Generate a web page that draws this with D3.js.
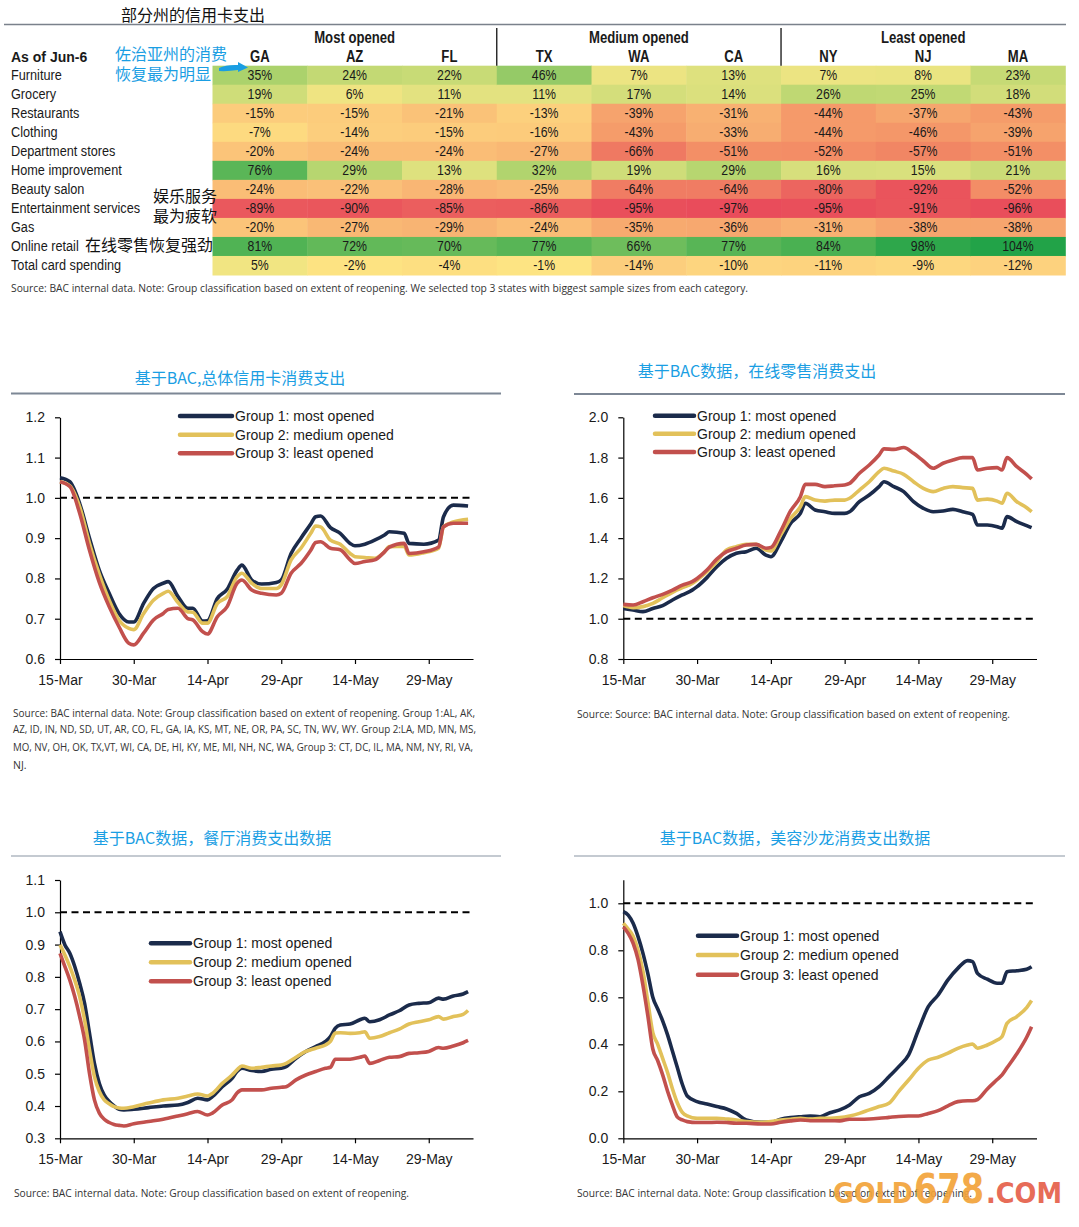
<!DOCTYPE html>
<html><head><meta charset="utf-8">
<script src="https://cdn.jsdelivr.net/npm/d3@7"></script>
<style>body{margin:0;background:#fff}svg{display:block}</style>
</head><body>
<svg id="c" width="1079" height="1227"></svg>
<script>
// ---------- TABLE DATA ----------
const tableTitle = "部分州的信用卡支出";
const tableCategories = ["Furniture","Grocery","Restaurants","Clothing","Department stores","Home improvement","Beauty salon","Entertainment services","Gas","Online retail","Total card spending"];
const tableGroups = ["Most opened","Medium opened","Least opened"];
const tableStates = ["GA","AZ","FL","TX","WA","CA","NY","NJ","MA"];
const valGA = [35,19,-15,-7,-20,76,-24,-89,-20,81,5];
const valAZ = [24,6,-15,-14,-24,29,-22,-90,-27,72,-2];
const valFL = [22,11,-21,-15,-24,13,-28,-85,-29,70,-4];
const valTX = [46,11,-13,-16,-27,32,-25,-86,-24,77,-1];
const valWA = [7,17,-39,-43,-66,19,-64,-95,-35,66,-14];
const valCA = [13,14,-31,-33,-51,29,-64,-97,-36,77,-10];
const valNY = [7,26,-44,-44,-52,16,-80,-95,-31,84,-11];
const valNJ = [8,25,-37,-46,-57,15,-92,-91,-38,98,-9];
const valMA = [23,18,-43,-39,-51,21,-52,-96,-38,104,-12];
const tableSource = "Source: BAC internal data. Note: Group classification based on extent of reopening. We selected top 3 states with biggest sample sizes from each category.";

// ---------- CHART DATA (x = days since 15-Mar) ----------
const xTickDays = [0,15,30,45,60,75];
const xTickLabels = ["15-Mar","30-Mar","14-Apr","29-Apr","14-May","29-May"];
const groupNames = ["Group 1: most opened","Group 2: medium opened","Group 3: least opened"];

// Chart 1: total card spending
const daysTotal = [0,2,4,6,8,10,12,14,15,17,19,21,22,24,26,27,29,30,32,34,36,37,39,41,44,45,47,49,51,52,53,55,57,59,60,62,64,66,67,70,71,74,77,78,80,83];
const totalG1 = [1.05,1.04,0.986,0.90,0.82,0.763,0.713,0.692,0.692,0.738,0.775,0.788,0.792,0.755,0.726,0.726,0.694,0.695,0.75,0.773,0.82,0.833,0.796,0.786,0.79,0.796,0.862,0.90,0.935,0.953,0.955,0.926,0.912,0.887,0.881,0.885,0.895,0.908,0.916,0.912,0.887,0.885,0.895,0.953,0.982,0.98];
const totalG2 = [1.04,1.03,0.978,0.887,0.81,0.746,0.697,0.676,0.673,0.713,0.746,0.763,0.768,0.74,0.717,0.716,0.689,0.689,0.738,0.755,0.804,0.813,0.788,0.775,0.775,0.784,0.846,0.875,0.912,0.93,0.928,0.895,0.885,0.862,0.854,0.852,0.85,0.866,0.879,0.88,0.858,0.864,0.875,0.928,0.94,0.947];
const totalG3 = [1.04,1.028,0.962,0.87,0.79,0.73,0.68,0.639,0.635,0.664,0.697,0.713,0.723,0.726,0.70,0.697,0.668,0.662,0.705,0.73,0.788,0.796,0.771,0.763,0.759,0.763,0.813,0.837,0.87,0.889,0.891,0.875,0.871,0.846,0.837,0.842,0.846,0.866,0.878,0.887,0.862,0.866,0.878,0.928,0.937,0.937];

// Chart 2: online retail
const daysOnline = [0,2,4,6,8,10,12,14,15,17,19,21,23,25,27,29,30,32,34,36,37,39,41,43,45,46,48,50,52,53,55,57,59,61,63,65,67,69,71,72,74,76,77,78,80,82,83];
const onlineG1 = [1.051,1.043,1.035,1.051,1.065,1.093,1.118,1.142,1.159,1.204,1.258,1.30,1.325,1.333,1.35,1.316,1.308,1.382,1.473,1.523,1.573,1.54,1.531,1.523,1.523,1.531,1.581,1.614,1.656,1.68,1.656,1.631,1.581,1.548,1.531,1.535,1.543,1.531,1.518,1.465,1.465,1.457,1.449,1.507,1.482,1.462,1.452];
const onlineG2 = [1.065,1.055,1.06,1.076,1.104,1.131,1.154,1.175,1.192,1.233,1.283,1.341,1.358,1.369,1.369,1.341,1.336,1.416,1.498,1.556,1.606,1.589,1.584,1.589,1.589,1.598,1.639,1.68,1.73,1.747,1.733,1.717,1.68,1.647,1.631,1.647,1.656,1.651,1.647,1.589,1.594,1.584,1.573,1.623,1.581,1.551,1.531];
const onlineG3 = [1.071,1.068,1.084,1.104,1.121,1.142,1.167,1.184,1.20,1.242,1.296,1.333,1.35,1.366,1.369,1.35,1.353,1.435,1.535,1.606,1.667,1.667,1.656,1.66,1.664,1.672,1.722,1.763,1.813,1.843,1.841,1.85,1.821,1.783,1.747,1.772,1.788,1.80,1.80,1.738,1.747,1.75,1.738,1.80,1.755,1.717,1.694];

// Chart 3: restaurants
const daysRest = [0,1,2,3,4,5,6,7,8,9,10,11,12,13,15,18,21,24,26,28,30,31,33,35,36,37,39,41,43,45,46,48,50,52,54,55,56,57,59,61,62,63,65,67,69,71,73,75,77,78,80,82,83];
const restG1 = [0.94,0.899,0.873,0.832,0.78,0.718,0.625,0.532,0.47,0.434,0.414,0.40,0.39,0.388,0.39,0.395,0.40,0.403,0.411,0.424,0.419,0.429,0.46,0.486,0.507,0.517,0.51,0.507,0.514,0.517,0.522,0.548,0.569,0.584,0.60,0.615,0.641,0.651,0.654,0.667,0.672,0.661,0.667,0.682,0.695,0.713,0.718,0.72,0.734,0.731,0.741,0.747,0.754];
const restG2 = [0.899,0.868,0.832,0.79,0.739,0.667,0.574,0.491,0.445,0.419,0.407,0.398,0.394,0.393,0.398,0.409,0.419,0.424,0.431,0.437,0.431,0.439,0.47,0.496,0.512,0.524,0.517,0.52,0.524,0.527,0.532,0.551,0.569,0.579,0.589,0.60,0.626,0.627,0.625,0.627,0.63,0.61,0.615,0.627,0.638,0.654,0.661,0.667,0.677,0.669,0.677,0.684,0.696];
const restG3 = [0.873,0.832,0.79,0.739,0.677,0.605,0.501,0.419,0.378,0.359,0.349,0.343,0.34,0.338,0.345,0.352,0.359,0.369,0.376,0.383,0.372,0.378,0.403,0.419,0.44,0.45,0.45,0.45,0.455,0.458,0.46,0.481,0.496,0.507,0.517,0.52,0.545,0.545,0.545,0.551,0.555,0.532,0.541,0.551,0.553,0.563,0.565,0.569,0.581,0.579,0.586,0.596,0.603];

// Chart 4: beauty salon
const daysBeauty = [0,1,2,3,4,5,6,7,8,9,10,11,12,13,15,17,19,21,23,25,28,30,32,34,36,38,40,42,44,46,48,50,52,54,56,58,60,62,64,66,68,70,71,72,74,76,77,78,80,82,83];
const beautyG1 = [0.965,0.95,0.915,0.858,0.787,0.70,0.60,0.55,0.50,0.44,0.37,0.30,0.23,0.18,0.156,0.146,0.135,0.125,0.106,0.078,0.068,0.068,0.081,0.088,0.092,0.095,0.092,0.109,0.121,0.142,0.177,0.191,0.22,0.262,0.305,0.355,0.461,0.56,0.61,0.674,0.723,0.756,0.752,0.702,0.677,0.66,0.66,0.709,0.713,0.719,0.73];
const beautyG2 = [0.915,0.89,0.86,0.80,0.71,0.58,0.45,0.40,0.34,0.28,0.21,0.15,0.11,0.095,0.085,0.085,0.085,0.082,0.078,0.071,0.068,0.071,0.078,0.081,0.085,0.082,0.085,0.085,0.088,0.095,0.106,0.121,0.135,0.149,0.20,0.248,0.298,0.333,0.345,0.362,0.383,0.397,0.401,0.383,0.397,0.418,0.433,0.489,0.518,0.556,0.586];
const beautyG3 = [0.90,0.872,0.83,0.76,0.65,0.52,0.38,0.33,0.27,0.20,0.14,0.09,0.078,0.071,0.067,0.067,0.068,0.067,0.064,0.064,0.061,0.061,0.068,0.074,0.078,0.075,0.075,0.075,0.074,0.081,0.081,0.082,0.085,0.089,0.093,0.095,0.095,0.106,0.118,0.138,0.156,0.16,0.16,0.165,0.21,0.25,0.27,0.30,0.36,0.43,0.475];

const srcShort = "Source: BAC internal data. Note: Group classification based on extent of reopening.";
const srcOnline = "Source: Source: BAC internal data. Note: Group classification based on extent of reopening.";
const srcLong = ["Source: BAC internal data. Note: Group classification based on extent of reopening. Group 1:AL, AK,",
 "AZ, ID, IN, ND, SD, UT, AR, CO, FL, GA, IA, KS, MT, NE, OR, PA, SC, TN, WV, WY. Group 2:LA, MD, MN, MS,",
 "MO, NV, OH, OK, TX,VT, WI, CA, DE, HI, KY, ME, MI, NH, NC, WA, Group 3: CT, DC, IL, MA, NM, NY, RI, VA,",
 "NJ."];
const watermark = ["GOLD","678",".COM"];

// ---------- DRAWING ----------
const svg = d3.select("#c");
const NAVY = "#1b2b4b", GOLD = "#e2c15a", RED = "#c2504d", BLUE = "#1a9ee3";
const SANS = "'Liberation Sans', Arial, sans-serif";
const CJK = "'Noto Sans CJK SC', sans-serif";
const SRC = "'Open Sans', sans-serif";
const NX = 0.82; // horizontal squeeze to mimic a narrow face

function narrowText(parent, x, y, str, size, anchor, weight){
  return parent.append("text")
    .attr("transform",`translate(${x},${y}) scale(${NX},1)`)
    .attr("text-anchor",anchor||"start")
    .attr("font-family",SANS).attr("font-size",size).attr("font-weight",weight||"normal")
    .attr("fill","#1a1a1a").text(str);
}

// Table
const tableCols = [valGA,valAZ,valFL,valTX,valWA,valCA,valNY,valNJ,valMA];
const colX = d3.scaleBand().domain(tableStates).range([212.5, 1065.3]);
const rowY = d3.scaleBand().domain(tableCategories).range([65.7, 275]);
const heat = d3.scaleLinear()
  .domain([-100,-50,-10,0,10,30,100])
  .range(["#e8485a","#f39066","#fdd57f","#fde683","#e5e381","#b5d56f","#2aa64a"])
  .interpolate(d3.interpolateRgb);

svg.append("text").attr("x",193).attr("y",21).attr("text-anchor","middle")
  .attr("font-family",CJK).attr("font-size",16).attr("fill","#111").text(tableTitle);
svg.append("line").attr("x1",4).attr("x2",1066).attr("y1",24.5).attr("y2",24.5)
  .attr("stroke","#7a818b").attr("stroke-width",1.5);

const tg = svg.append("g");
tableStates.forEach((s,ci)=>{
  tableCategories.forEach((c,ri)=>{
    const v = tableCols[ci][ri];
    tg.append("rect").attr("x",colX(s)).attr("y",rowY(c))
      .attr("width",colX.bandwidth()+0.5).attr("height",rowY.bandwidth()+0.5).attr("fill",heat(v));
  });
});
tableStates.forEach((s,ci)=>{
  tableCategories.forEach((c,ri)=>{
    narrowText(tg, colX(s)+colX.bandwidth()/2, rowY(c)+rowY.bandwidth()/2+5, tableCols[ci][ri]+"%", 15, "middle");
  });
  narrowText(tg, colX(s)+colX.bandwidth()/2, 62, s, 16, "middle", "bold");
});
tableGroups.forEach((gname,gi)=>{
  const xs = colX(tableStates[gi*3]), xe = colX(tableStates[gi*3+2])+colX.bandwidth();
  narrowText(tg, (xs+xe)/2, 43, gname, 16, "middle", "bold");
  if(gi>0) tg.append("line").attr("x1",xs).attr("x2",xs).attr("y1",28).attr("y2",65.7).attr("stroke","#111").attr("stroke-width",1.3);
});
tg.append("text").attr("x",11).attr("y",62).attr("font-family",SANS).attr("font-weight","bold").attr("font-size",14).attr("fill","#1a1a1a").text("As of Jun-6");
tableCategories.forEach(c=>{
  narrowText(tg, 11, rowY(c)+rowY.bandwidth()/2+5, c, 15.5, "start");
});
tg.append("text").attr("x",11).attr("y",292).attr("font-family",SRC).attr("font-size",11).attr("fill","#333")
  .attr("textLength",737).attr("lengthAdjust","spacingAndGlyphs").text(tableSource);

// annotations
const ann = svg.append("g").attr("font-family",CJK).attr("font-size",16);
ann.append("text").attr("x",115).attr("y",60).attr("fill",BLUE).text("佐治亚州的消费");
ann.append("text").attr("x",115).attr("y",80).attr("fill",BLUE).text("恢复最为明显");
ann.append("path").attr("d","M219,68 Q226,64.5 238,65 L238,62 L248,67.5 L238,72 L238,70 Q228,71.5 219,71 Z").attr("fill",BLUE);
ann.append("text").attr("x",153).attr("y",202).attr("fill","#111").text("娱乐服务");
ann.append("text").attr("x",153).attr("y",222).attr("fill","#111").text("最为疲软");
ann.append("text").attr("x",85).attr("y",251).attr("fill","#111").text("在线零售恢复强劲");

// Chart helper
function drawChart(o){
  const g = svg.append("g");
  const x = d3.scaleLinear().domain([0,84]).range([o.x0,o.x1]);
  const y = d3.scaleLinear().domain(o.yDomain).range([o.yBottom,o.yTop]);
  g.append("text").attr("x",o.titleX).attr("y",o.titleY).attr("text-anchor","middle")
    .attr("font-family",CJK).attr("font-size",16).attr("fill",BLUE).text(o.title);
  g.append("line").attr("x1",o.ruleX0).attr("x2",o.ruleX1).attr("y1",o.ruleY).attr("y2",o.ruleY)
    .attr("stroke",o.ruleColor).attr("stroke-width",o.ruleW);

  const xa = g.append("g").attr("transform",`translate(0,${o.yBottom})`)
    .call(d3.axisBottom(x).tickValues(xTickDays).tickFormat((d,i)=>xTickLabels[i]).tickSize(5).tickSizeOuter(0).tickPadding(11));
  const ya = g.append("g").attr("transform",`translate(${o.x0},0)`)
    .call(d3.axisLeft(y).tickValues(o.yTicks).tickFormat(d3.format(".1f")).tickSize(5).tickSizeOuter(0).tickPadding(10));
  [xa,ya].forEach(a=>{
    a.attr("font-family",SANS).attr("font-size",14);
    a.select(".domain").attr("stroke","#000").attr("stroke-width",1.2);
    a.selectAll(".tick line").attr("stroke","#000").attr("stroke-width",1.2);
    a.selectAll(".tick text").attr("fill","#1a1a1a");
  });
  g.append("line").attr("x1",x(0)).attr("x2",o.x1-1).attr("y1",y(1)).attr("y2",y(1))
    .attr("stroke","#000").attr("stroke-width",2).attr("stroke-dasharray","7,4.5");

  const line = d3.line().x(d=>x(d[0])).y(d=>y(d[1])).curve(d3.curveMonotoneX);
  const cols = [NAVY,GOLD,RED];
  o.series.forEach((s,i)=>{
    g.append("path").datum(o.days.map((d,k)=>[d,s[k]])).attr("d",line)
      .attr("fill","none").attr("stroke",cols[i]).attr("stroke-width",3.6).attr("stroke-linejoin","round");
  });
  groupNames.forEach((n,i)=>{
    g.append("line").attr("x1",o.legX0).attr("x2",o.legX1).attr("y1",o.legY[i]).attr("y2",o.legY[i])
      .attr("stroke",cols[i]).attr("stroke-width",4.5).attr("stroke-linecap","round");
    g.append("text").attr("x",o.legX1+3).attr("y",o.legY[i]+5).attr("font-family",SANS).attr("font-size",14)
      .attr("fill","#1a1a1a").text(n);
  });
  o.src.forEach((t,i)=>{
    const el = g.append("text").attr("x",o.srcX).attr("y",o.srcY[i]).attr("font-family",SRC).attr("font-size",10.5)
      .attr("fill","#333").text(t);
    if(o.srcW[i]) el.attr("textLength",o.srcW[i]).attr("lengthAdjust","spacingAndGlyphs");
  });
}

drawChart({title:"基于BAC,总体信用卡消费支出",titleX:240,titleY:384,
  ruleX0:11,ruleX1:501,ruleY:393.5,ruleColor:"#7d8795",ruleW:2,
  x0:60,x1:473,yDomain:[0.6,1.2],yBottom:659,yTop:417.3,yTicks:[0.6,0.7,0.8,0.9,1.0,1.1,1.2],
  days:daysTotal,series:[totalG1,totalG2,totalG3],
  legX0:180,legX1:232,legY:[416,434.7,453.3],
  src:srcLong,srcX:13,srcY:[717,733,751,769],srcW:[462,463,460,null]});

drawChart({title:"基于BAC数据，在线零售消费支出",titleX:757,titleY:377,
  ruleX0:574,ruleX1:1065,ruleY:394,ruleColor:"#7d8795",ruleW:2,
  x0:623.3,x1:1036.5,yDomain:[0.8,2.0],yBottom:659,yTop:417.3,yTicks:[0.8,1.0,1.2,1.4,1.6,1.8,2.0],
  days:daysOnline,series:[onlineG1,onlineG2,onlineG3],
  legX0:655,legX1:694,legY:[415.7,433.7,452],
  src:[srcOnline],srcX:577,srcY:[718],srcW:[433]});

drawChart({title:"基于BAC数据，餐厅消费支出数据",titleX:212,titleY:844,
  ruleX0:11,ruleX1:501,ruleY:856,ruleColor:"#8a96a3",ruleW:1.2,
  x0:60,x1:473,yDomain:[0.3,1.1],yBottom:1138.3,yTop:880,yTicks:[0.3,0.4,0.5,0.6,0.7,0.8,0.9,1.0,1.1],
  days:daysRest,series:[restG1,restG2,restG3],
  legX0:151,legX1:190,legY:[943.3,962.3,981.3],
  src:[srcShort],srcX:14,srcY:[1197],srcW:[395]});

drawChart({title:"基于BAC数据，美容沙龙消费支出数据",titleX:795,titleY:844,
  ruleX0:574,ruleX1:1065,ruleY:856,ruleColor:"#8a96a3",ruleW:1.2,
  x0:623.3,x1:1036.5,yDomain:[0,1.1],yBottom:1138.3,yTop:879.8,yTicks:[0,0.2,0.4,0.6,0.8,1.0],
  days:daysBeauty,series:[beautyG1,beautyG2,beautyG3],
  legX0:698,legX1:737,legY:[935.7,955,974.7],
  src:[srcShort],srcX:577,srcY:[1197],srcW:[395]});

// watermark
const wm = svg.append("g").attr("font-family","'DejaVu Sans', sans-serif").attr("font-weight","bold").attr("opacity",0.92);
wm.append("text").attr("x",833).attr("y",1203).attr("font-size",29).attr("fill","#f2a33a")
  .attr("textLength",80).attr("lengthAdjust","spacingAndGlyphs").text(watermark[0]);
wm.append("text").attr("x",914).attr("y",1203).attr("font-size",41).attr("fill","#f2a33a")
  .attr("textLength",70).attr("lengthAdjust","spacingAndGlyphs").text(watermark[1]);
wm.append("text").attr("x",986).attr("y",1203).attr("font-size",29).attr("fill","#e5604a")
  .attr("textLength",76).attr("lengthAdjust","spacingAndGlyphs").text(watermark[2]);
</script>
</body></html>
